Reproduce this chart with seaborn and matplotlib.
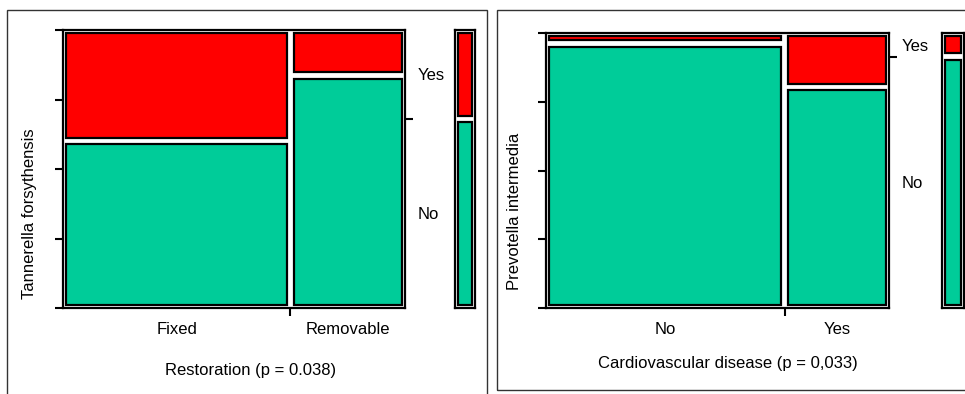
import matplotlib.pyplot as plt
import matplotlib.patches as mpatches
import numpy as np
import pandas as pd
import seaborn as sns

# left panel: Restoration vs Tannerella forsythensis (counts)
rest_groups = ["Fixed", "Removable"]
rest_yes = [53, 11]
rest_no = [80, 56]

# right panel: Cardiovascular disease vs Prevotella intermedia (counts)
cvd_groups = ["No", "Yes"]
cvd_yes = [4, 9]
cvd_no = [101, 37]

status = ["Yes", "No"]
colors = {"Yes": "#FF0000", "No": "#00CC99"}

sns.set_style("white")
plt.rcParams["font.family"] = ["Liberation Sans", "DejaVu Sans"]
plt.rcParams["font.size"] = 12
for k in ["text.color", "axes.labelcolor", "xtick.color", "ytick.color"]:
    plt.rcParams[k] = "black"

W, H = 965, 394
fig = plt.figure(figsize=(W / 100, H / 100), dpi=100)


def px_axes(x0, y0, x1, y1):
    return fig.add_axes([x0 / W, 1 - y1 / H, (x1 - x0) / W, (y1 - y0) / H])


def inset_cells(ax, px=3.2):
    # pull every cell in a little so the white gaps show between them
    bb = ax.get_window_extent()
    dx, dy = px / bb.width, px / bb.height
    for p in ax.patches:
        p.set_x(p.get_x() + dx)
        p.set_width(p.get_width() - 2 * dx)
        p.set_y(p.get_y() + dy)
        p.set_height(p.get_height() - 2 * dy)


def frame(ax):
    ax.set_xlim(0, 1)
    ax.set_ylim(0, 1)
    for s in ax.spines.values():
        s.set_visible(True)
        s.set_color("black")
        s.set_linewidth(1.6)


def mosaic(ax, axm, groups, yes, no, xlabel, ylabel, xpad, ypad, xlab_x, ylab_y):
    n = np.array(yes) + np.array(no)
    edges = np.concatenate([[0], np.cumsum(n) / n.sum()])
    mids = (edges[:-1] + edges[1:]) / 2
    df = pd.DataFrame({
        "pos": np.concatenate([mids, mids]),
        "status": ["Yes"] * len(groups) + ["No"] * len(groups),
        "n": np.concatenate([yes, no]),
    })
    sns.histplot(data=df, x="pos", hue="status", weights="n", bins=edges.tolist(),
                 multiple="fill", hue_order=status, palette=colors, alpha=1,
                 edgecolor="black", linewidth=1.6, legend=False, ax=ax)
    frame(ax)
    inset_cells(ax)

    # marginal bar on the right
    tot = df.groupby("status", as_index=False)["n"].sum()
    tot["pos"] = 0.5
    sns.histplot(data=tot, x="pos", hue="status", weights="n", bins=[0, 1],
                 multiple="fill", hue_order=status, palette=colors, alpha=1,
                 edgecolor="black", linewidth=1.6, legend=False, ax=axm)
    frame(axm)
    inset_cells(axm)
    axm.set_xticks([])
    axm.set_yticks([])
    axm.set_xlabel("")
    axm.set_ylabel("")

    # ticks and labels of the main panel
    ax.set_yticks([0, 0.25, 0.5, 0.75, 1])
    ax.tick_params(axis="y", which="major", left=True, labelleft=False,
                   direction="out", length=6, width=1.5, color="black")
    ax.set_xticks(edges[1:-1])
    ax.set_xticks(mids, minor=True)
    ax.set_xticklabels(groups, minor=True)
    ax.tick_params(axis="x", which="major", bottom=True, labelbottom=False,
                   direction="out", length=6, width=1.5, color="black")
    ax.tick_params(axis="x", which="minor", bottom=True, length=0, pad=10)
    ax.set_xlabel(xlabel, labelpad=xpad, x=xlab_x)
    ax.set_ylabel(ylabel, labelpad=ypad, y=ylab_y)

    share_yes = tot.set_index("status").loc["Yes", "n"] / tot["n"].sum()
    split = 1 - share_yes
    tw = ax.twinx()
    tw.set_ylim(0, 1)
    for s in tw.spines.values():
        s.set_visible(False)
    tw.set_yticks([split])
    tw.set_yticks([1 - share_yes / 2, split / 2], minor=True)
    tw.set_yticklabels(["Yes", "No"], minor=True)
    tw.tick_params(axis="y", which="major", right=True, labelright=False,
                   direction="out", length=6, width=1.5, color="black")
    tw.tick_params(axis="y", which="minor", right=True, length=0, pad=9)


ax1 = px_axes(63, 30, 405, 308)
ax1m = px_axes(455, 30, 475, 308)
mosaic(ax1, ax1m, rest_groups, rest_yes, rest_no,
       "Restoration (p = 0.038)", "Tannerella forsythensis", 19, 13, 0.547, 0.34)

ax2 = px_axes(546, 33, 889, 308)
ax2m = px_axes(942, 33, 964, 308)
mosaic(ax2, ax2m, cvd_groups, cvd_yes, cvd_no,
       "Cardiovascular disease (p = 0,033)", "Prevotella intermedia", 14, 11, 0.531, 0.35)

# panel borders
for x0, y0, x1, y1 in [(7, 10, 487, 400), (497, 10, 975, 390)]:
    fig.add_artist(mpatches.Rectangle((x0 / W, 1 - y1 / H), (x1 - x0) / W,
                                      (y1 - y0) / H, transform=fig.transFigure,
                                      fill=False, edgecolor="#333333", lw=1))

fig.savefig("out.png", dpi=100)
